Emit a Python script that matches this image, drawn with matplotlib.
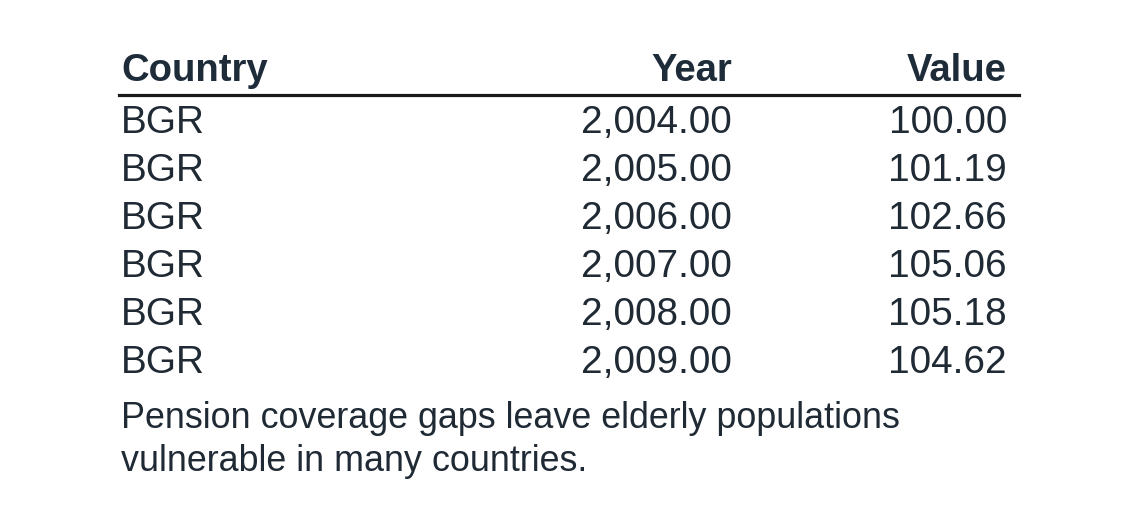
import matplotlib
matplotlib.use("Agg")
import matplotlib.pyplot as plt
from matplotlib.lines import Line2D

# table data
columns = ["Country", "Year", "Value"]
countries = ["BGR", "BGR", "BGR", "BGR", "BGR", "BGR"]
years = [2004, 2005, 2006, 2007, 2008, 2009]
values = [100.00, 101.19, 102.66, 105.06, 105.18, 104.62]
caption = "Pension coverage gaps leave elderly populations\nvulnerable in many countries."

W, H = 1140, 528
plt.rcParams['font.family'] = ['Liberation Sans', 'DejaVu Sans']
fig = plt.figure(figsize=(W / 100, H / 100), dpi=100)
fig.patch.set_facecolor("white")

head_col = "#1e2c3a"
body_col = "#1f2a35"
fs = 27.5

def px(x, y):
    return x / W, 1 - y / H

# column anchors: (x, alignment)
col_pos = [(121, "left"), (732, "right"), (1007, "right")]

header_base = 81
for (x, ha), name in zip(col_pos, columns):
    fig.text(*px(x, header_base), name, ha=ha, va="baseline",
             fontsize=fs, fontweight="bold", color=head_col)

# rule under header
x0, y0 = px(119, 95)
x1, _ = px(1019, 95)
fig.add_artist(Line2D([x0, x1], [y0, y0], transform=fig.transFigure,
                      color="#1a1a1a", linewidth=2.3))

row_base = 133
row_step = 48
for i, (c, yr, v) in enumerate(zip(countries, years, values)):
    yb = row_base + i * row_step
    cells = [c, f"{yr:,.2f}", f"{v:,.2f}"]
    for (x, ha), txt in zip(col_pos, cells):
        fig.text(*px(x, yb), txt, ha=ha, va="baseline",
                 fontsize=27.9, color=body_col)

for j, line in enumerate(caption.split("\n")):
    fig.text(*px(121, 428 + j * 43), line, ha="left", va="baseline",
             fontsize=25.8, color=body_col)

fig.savefig("out.png", dpi=100, facecolor="white")
